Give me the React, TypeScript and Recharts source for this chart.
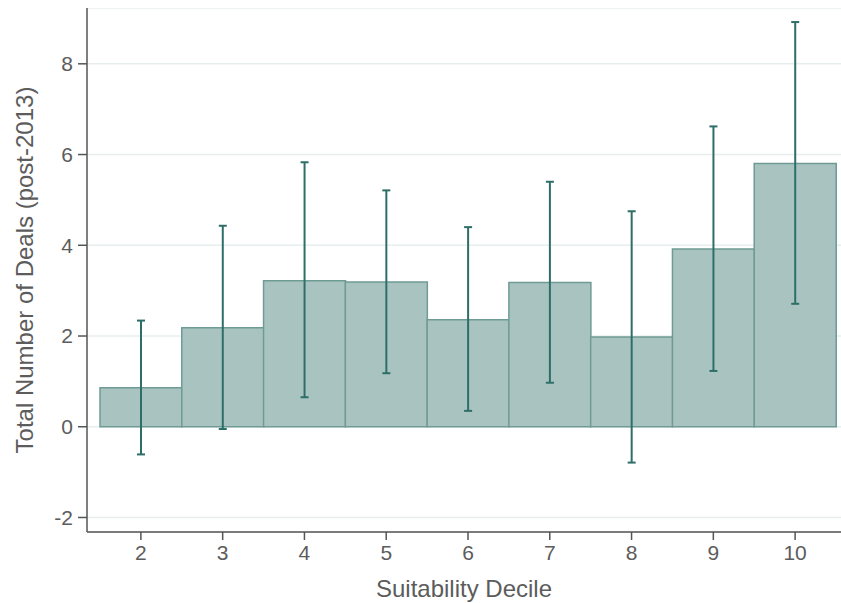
import React from 'react';
import { BarChart, Bar, XAxis, YAxis, CartesianGrid, ErrorBar } from 'recharts';

const deciles = ['2', '3', '4', '5', '6', '7', '8', '9', '10'];
const means = [0.86, 2.18, 3.22, 3.19, 2.36, 3.18, 1.98, 3.92, 5.80];
const lowers = [-0.61, -0.05, 0.65, 1.18, 0.35, 0.97, -0.79, 1.23, 2.71];
const uppers = [2.34, 4.43, 5.83, 5.21, 4.40, 5.40, 4.75, 6.62, 8.92];
const yTicks = [-2, 0, 2, 4, 6, 8];

const data = deciles.map((d, i) => ({
  decile: d,
  mean: means[i],
  err: [means[i] - lowers[i], uppers[i] - means[i]],
}));

const textColor = '#5c5c5c';
const axisColor = '#555555';
const font = 'Liberation Sans, Arial, Helvetica, sans-serif';

export default function App() {
  return (
    <div style={{ position: 'absolute', left: 8, top: 8, width: 833, height: 595, fontFamily: font }}>
      <BarChart
        width={833}
        height={595}
        data={data}
        margin={{ top: 0, right: 0, bottom: 0, left: 0 }}
        barCategoryGap={0}
        barGap={0}
      >
        <CartesianGrid horizontal={true} vertical={false} stroke="#e7eef0" strokeWidth={1.5} />
        <XAxis
          dataKey="decile"
          type="category"
          height={71}
          padding={{ left: 13, right: 5 }}
          stroke={axisColor}
          strokeWidth={1.5}
          tickSize={8}
          tickMargin={5}
          tick={{ fill: textColor, fontSize: 21, fontFamily: font }}
          label={{ value: 'Suitability Decile', position: 'insideBottom', offset: 6, fill: textColor, fontSize: 24, fontFamily: font }}
        />
        <YAxis
          type="number"
          domain={[-2.32, 9.23]}
          ticks={yTicks}
          allowDataOverflow={true}
          width={79}
          stroke={axisColor}
          strokeWidth={1.5}
          tickSize={9}
          tickMargin={5}
          tick={{ fill: textColor, fontSize: 21, fontFamily: font }}
          label={{ value: 'Total Number of Deals (post-2013)', angle: -90, position: 'insideLeft', offset: 16, fill: textColor, fontSize: 24, fontFamily: font, style: { textAnchor: 'middle' } }}
        />
        <Bar dataKey="mean" fill="#a9c4c0" stroke="#6f9b95" strokeWidth={1.5} isAnimationActive={false}>
          <ErrorBar dataKey="err" width={4} stroke="#2e6e68" strokeWidth={2} direction="y" isAnimationActive={false} />
        </Bar>
      </BarChart>
    </div>
  );
}
